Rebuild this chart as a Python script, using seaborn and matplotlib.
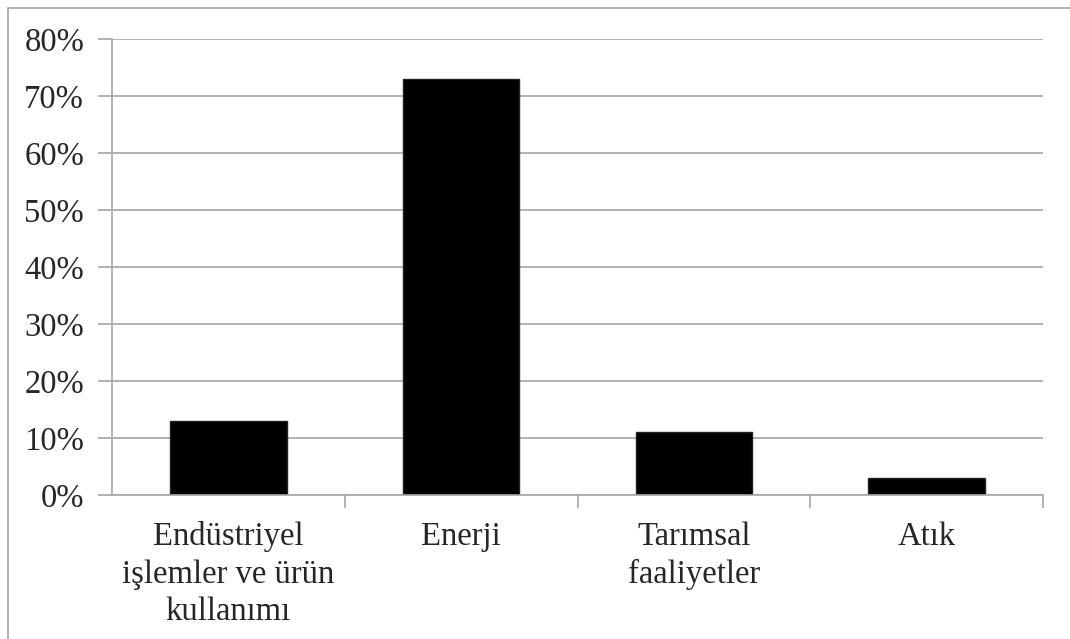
import matplotlib
matplotlib.use("Agg")
import matplotlib.pyplot as plt
import seaborn as sns
import pandas as pd
from matplotlib.patches import Rectangle
from matplotlib.ticker import FuncFormatter, FixedLocator

# Veriler
kategoriler = ["Endüstriyel\nişlemler ve ürün\nkullanımı", "Enerji", "Tarımsal\nfaaliyetler", "Atık"]
oranlar = [13, 73, 11, 3]

df = pd.DataFrame({"kategori": kategoriler, "oran": oranlar})

sns.set_style("white")
plt.rcParams['font.family'] = ['Liberation Serif', 'DejaVu Serif']

W, H = 1070, 639
fig = plt.figure(figsize=(W / 100, H / 100), dpi=100)
ax = fig.add_axes([112 / W, 1 - 495 / H, (1043 - 112) / W, (495 - 39) / H])

sns.barplot(data=df, x="kategori", y="oran", color="black", width=0.5,
            edgecolor="#222222", linewidth=1, saturation=1, ax=ax)

ax.set_ylim(0, 80)
ax.set_xlim(-0.5, 3.5)
ax.yaxis.set_major_locator(FixedLocator(range(0, 81, 10)))
ax.yaxis.set_major_formatter(FuncFormatter(lambda v, p: f"{int(v)}%"))
ax.grid(axis='y', color='#a6a6a6', linewidth=1.2)
ax.set_axisbelow(True)

for s in ["top", "right"]:
    ax.spines[s].set_visible(False)
for s in ["left", "bottom"]:
    ax.spines[s].set_color('#a6a6a6')
    ax.spines[s].set_linewidth(1.2)

ax.tick_params(axis='y', length=10, width=1.2, color='#a6a6a6', labelsize=23.5, pad=10, left=True)
ax.tick_params(axis='x', length=0, labelsize=23.5, pad=19)
ax.set_xticks([0, 1, 2, 3])
ax.set_xticklabels(kategoriler, linespacing=1.3)
ax.set_xticks([0.5, 1.5, 2.5, 3.5], minor=True)
ax.tick_params(axis='x', which='minor', length=9, width=1.2, color='#a6a6a6', bottom=True)
ax.set_xlabel("")
ax.set_ylabel("")

# dış çerçeve
fig.patches.append(Rectangle((8 / W, -0.1), 1.2, 1 - 8 / H + 0.1, transform=fig.transFigure,
                             fill=False, edgecolor='#a6a6a6', linewidth=1.2))

fig.savefig("out.png", dpi=100)
